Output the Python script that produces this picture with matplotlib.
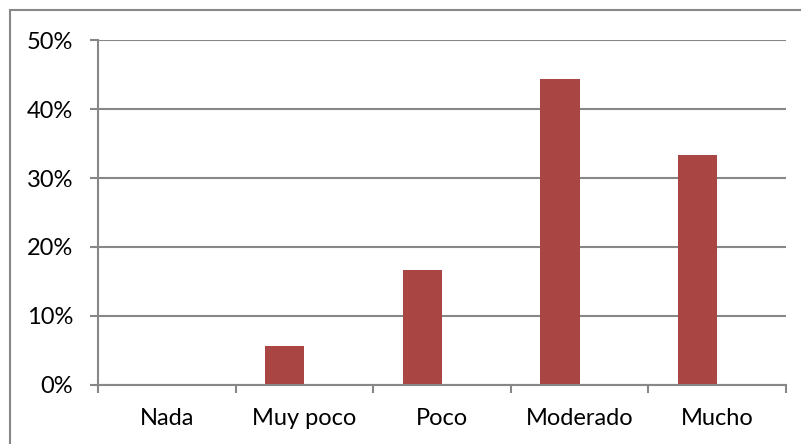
import matplotlib
matplotlib.use("Agg")
import matplotlib.pyplot as plt
from matplotlib.patches import Rectangle
from matplotlib.ticker import FuncFormatter, MultipleLocator
import numpy as np

categories = ["Nada", "Muy poco", "Poco", "Moderado", "Mucho"]
values = [0.0, 5.56, 16.67, 44.44, 33.33]

plt.rcParams['font.family'] = ['Lato', 'DejaVu Sans']

W, H = 801, 444
fig = plt.figure(figsize=(W / 100, H / 100), dpi=100)
L, R, T, B = 98, 786, 40.5, 384.5
ax = fig.add_axes([L / W, (H - B) / H, (R - L) / W, (B - T) / H])

grid_c = "#878787"
n = len(categories)
x = np.arange(n)
bw = 1 / 3.5
ax.bar(x - bw / 2, values, width=bw, color="#A94643", zorder=3)

ax.set_xlim(-0.5, n - 0.5)
ax.set_ylim(0, 50)
ax.yaxis.set_major_locator(MultipleLocator(10))
ax.yaxis.set_major_formatter(FuncFormatter(lambda v, p: f"{int(round(v))}%"))
ax.grid(axis="y", color=grid_c, linewidth=1.5, zorder=0)

ax.set_xticks(x)
ax.set_xticklabels(categories)
ax.set_xticks(np.arange(n + 1) - 0.5, minor=True)
ax.tick_params(axis="x", which="major", length=0, pad=17, labelsize=17, labelcolor="black")
ax.tick_params(axis="x", which="minor", length=6, width=1.5, color=grid_c)
ax.tick_params(axis="y", length=6, width=1.5, color=grid_c, pad=12, labelsize=17, labelcolor="black")

for s in ["top", "right"]:
    ax.spines[s].set_visible(False)
for s in ["left", "bottom"]:
    ax.spines[s].set_color(grid_c)
    ax.spines[s].set_linewidth(1.5)
    ax.spines[s].set_zorder(4)

fig.patches.append(Rectangle((10 / W, -0.1), 1.2, (H - 10) / H + 0.1,
                             transform=fig.transFigure, fill=False,
                             edgecolor=grid_c, linewidth=1.5))

fig.savefig("out.png", dpi=100)
